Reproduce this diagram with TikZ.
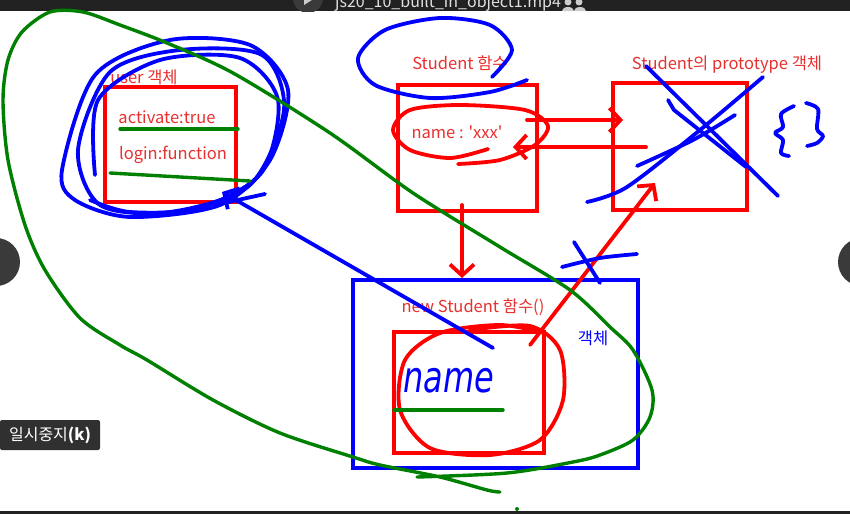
\documentclass[tikz,border=0pt]{standalone}
\usepackage{fontspec}
\setmainfont{Noto Sans CJK KR}
\newfontfamily\handfont{DejaVu Sans}
\usetikzlibrary{positioning,arrows.meta}

\definecolor{barcol}{HTML}{212121}
\definecolor{btncol}{HTML}{3A3A3A}
\definecolor{tipcol}{HTML}{303030}
\definecolor{penred}{HTML}{FF0000}
\definecolor{txtred}{HTML}{E8302E}
\definecolor{pengreen}{HTML}{008000}

\tikzset{
  redbox/.style={draw=penred, line width=3.6pt, inner sep=0pt},
  bluebox/.style={draw=blue, line width=4pt, inner sep=0pt},
  redtxt/.style={text=txtred, font=\fontsize{16.5}{17}\selectfont, inner sep=0pt},
  bluepen/.style={blue, line width=3.8pt, line cap=round, line join=round},
  redpen/.style={penred, line width=3.8pt, line cap=round, line join=round},
  greenpen/.style={pengreen, line width=3.4pt, line cap=round, line join=round},
  barb/.style={-{Straight Barb[length=11pt,width=24pt]}}
}

\begin{document}
\begin{tikzpicture}[x=1pt,y=-1pt]
\useasboundingbox (0,0) rectangle (850,514);
\fill[white] (0,0) rectangle (850,514);

\fill[barcol] (0,0) rectangle (850,11);
\begin{scope}
\clip (0,0) rectangle (850,11);
\fill[btncol] (308,-2) circle (15);
\fill[white!80!black] (304,-9) -- (304,5) -- (315,-2) -- cycle;
\node[text=white!88!black, anchor=base, font=\fontsize{16}{16}\selectfont, inner sep=0pt] (title) at (448,8) {js20\_10\_built\_in\_object1.mp4};
\fill[white!80!black] (568,2) circle (3.5) (579,2) circle (3.5);
\fill[white!80!black] (562,11) arc (180:360:6 and 4) (574,11) arc (180:360:6 and 4);
\end{scope}
\fill[barcol] (0,511) rectangle (850,514);

\fill[btncol] (-4,262) circle (24);
\fill[btncol] (862,262) circle (24);
\node[fill=tipcol, rounded corners=2pt, text=white, minimum width=100, minimum height=30, inner sep=0pt, font=\fontsize{16}{16}\selectfont] (pause) at (50,435) {일시중지\textbf{(k)}};

\node[redbox, minimum width=131, minimum height=115] (user) at (170.5,144.5) {};
\node[redtxt] (usertitle) at (144,77) {user 객체};
\node[redtxt] (act) at (167,117) {activate:true};
\node[redtxt] (login) at (173,155) {login:function};

\node[redbox, minimum width=139, minimum height=126] (func) at (467.5,148) {};
\node[redtxt] (functitle) at (460,63) {Student 함수};
\node[redtxt] (prop) at (457,132) {name : \textquotesingle xxx\textquotesingle};

\node[redbox, minimum width=134, minimum height=127] (proto) at (680,146.5) {};
\node[redtxt] (prototitle) at (727,65) {Student의 prototype 객체};

\node[bluebox, minimum width=285, minimum height=188] (obj) at (495.5,374) {};
\node[redtxt] (newtitle) at (473,307) {new Student 함수()};
\node[redtxt, text=blue] (objtxt) at (593,338) {객체};
\node[redbox, minimum width=150, minimum height=121] (inst) at (469,392.5) {};
\node[text=blue, font=\handfont\itshape\fontsize{32}{32}\selectfont, yscale=1.35, inner sep=0pt] (hand) at (449,381) {name};

\coordinate (upA) at (527,120);
\coordinate (upB) at (623,120);
\coordinate (lowA) at (646,147);
\coordinate (lowB) at (513,147);
\coordinate (downA) at (462,205);
\coordinate (downB) at (462,278);
\coordinate (diagA) at (530,345);
\coordinate (diagB) at (655,183);
\coordinate (backA) at (493,348);
\coordinate (backB) at (222,192);

\draw[redpen, barb] (upA) -- (upB);
\draw[redpen, barb] (lowA) -- (lowB);
\draw[redpen, barb] (downA) -- (downB);
\draw[redpen, barb] (diagA) -- (diagB);

\draw[redpen] plot[smooth] coordinates {(488,149) (450,158) (410,150) (393,130) (410,110) (460,105) (525,110) (548,126) (535,145) (500,160) (458,164)};
\draw[redpen] plot[smooth] coordinates {(470,330) (530,326) (560,350) (563,400) (540,440) (490,455) (430,448) (400,410) (405,360) (440,333) (500,325) (545,333)};

\draw[bluepen] plot[smooth] coordinates {(492,77) (512,50) (490,25) (440,18) (385,30) (358,58) (375,85) (430,98) (490,92) (527,80)};
\draw[bluepen] plot[smooth cycle] coordinates {(62,170) (95,75) (170,40) (250,45) (288,90) (270,160) (220,205) (130,217) (75,200)};
\draw[bluepen] plot[smooth cycle] coordinates {(78,150) (110,72) (180,50) (262,55) (284,110) (250,185) (170,212) (100,205)};
\draw[bluepen] plot[smooth] coordinates {(95,175) (98,100) (160,60) (240,58) (278,100) (262,172) (200,208) (130,212) (90,200)};
\draw[bluepen] (215,205) -- (265,194);
\draw[bluepen, barb] (backA) -- (backB);

\draw[bluepen] (646,66) -- (778,196);
\draw[bluepen] (668,100) -- (674,110) -- (746,167);
\draw[bluepen] plot[smooth] coordinates {(587,202) (627,187) (700,130) (763,77)};
\draw[bluepen] plot[smooth] coordinates {(637,166) (693,140) (735,115)};
\draw[bluepen] plot[smooth] coordinates {(794,106) (781,114) (783,127) (775,133) (783,140) (781,153) (789,156)};
\draw[bluepen] plot[smooth] coordinates {(806,103) (818,109) (817,129) (823,136) (817,143) (807,146)};
\draw[bluepen] plot[smooth] coordinates {(562,267) (600,258) (637,254)};
\draw[bluepen] (574,242) -- (600,283);

\draw[greenpen] (120,129) -- (238,129);
\draw[greenpen] (110,173) -- (250,181);
\draw[greenpen] (394,410) -- (503,410);
\draw[greenpen] plot[smooth] coordinates {(500,492) (487,490) (440,477) (380,465) (353,457) (280,433) (213,400) (147,360) (120,345) (80,318) (45,270) (25,225) (8,160) (3,100) (8,60) (22,32) (50,12) (83,12) (120,25) (167,43) (233,73) (330,133) (413,193) (500,247) (570,290) (610,327) (633,350) (652,390) (650,417) (633,440) (600,455) (573,462) (507,473) (417,477)};
\fill[pengreen] (517,509) circle (2);

\end{tikzpicture}
\end{document}
